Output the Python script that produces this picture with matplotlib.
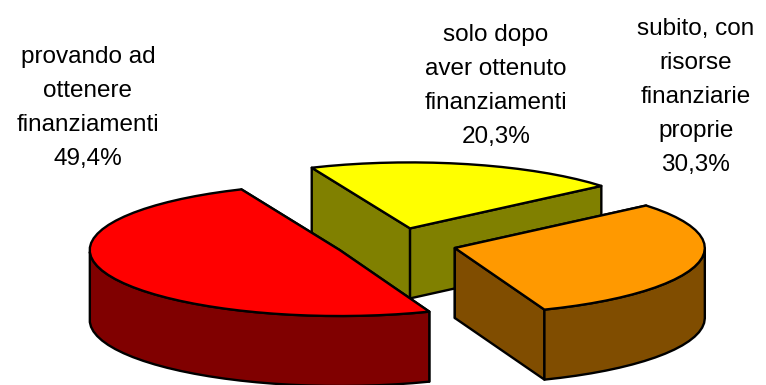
import numpy as np
import matplotlib
matplotlib.use("Agg")
import matplotlib.pyplot as plt
from matplotlib.patches import Polygon

labels = ["provando ad\nottenere\nfinanziamenti\n49,4%",
          "solo dopo\naver ottenuto\nfinanziamenti\n20,3%",
          "subito, con\nrisorse\nfinanziarie\nproprie\n30,3%"]
values = [49.4, 20.3, 30.3]
top_colors = ["#FF0000", "#FFFF00", "#FF9900"]
side_colors = ["#800000", "#808000", "#804D00"]
label_pos = [(88, 108), (496, 86), (696, 97)]

W, H = 766, 385
CX, CY = 396, 244      # pie centre (px)
A, B = 250, 66         # ellipse radii (px)
DEPTH = 70
EXPLODE = 0.243
START = 291            # parameter angle of first slice, clockwise

fig = plt.figure(figsize=(W/100, H/100), dpi=100)
ax = fig.add_axes([0, 0, 1, 1])
ax.set_xlim(0, W); ax.set_ylim(H, 0); ax.axis("off")

fr = np.array(values) / sum(values) * 360
t0 = START - np.concatenate([[0], np.cumsum(fr)[:-1]])
t1 = t0 - fr

def pt(c, t):
    r = np.radians(t)
    return np.column_stack([c[0] + A*np.cos(r), c[1] - B*np.sin(r)])

LW = 1.7
kw = dict(edgecolor="black", linewidth=LW, joinstyle="round")
order = [1, 2, 0]   # yellow behind, then orange, then red
for i in order:
    mid = (t0[i] + t1[i]) / 2
    c = np.array([CX + EXPLODE*A*np.cos(np.radians(mid)),
                  CY - EXPLODE*B*np.sin(np.radians(mid))])
    ts = np.linspace(t0[i], t1[i], int(fr[i] / 4) + 1)
    rim = pt(c, ts)
    down = np.array([0, DEPTH])
    z = 2 + order.index(i)*2
    for e in (rim[0], rim[-1]):
        ax.add_patch(Polygon([c, e, e+down, c+down], facecolor=side_colors[i], zorder=z, **kw))
    front = rim[np.sin(np.radians(ts)) <= 0]
    if len(front) > 1:
        wall = np.vstack([front, (front + down)[::-1]])
        ax.add_patch(Polygon(wall, facecolor=side_colors[i], zorder=z, **kw))
    ax.add_patch(Polygon(np.vstack([c, rim]), facecolor=top_colors[i], zorder=z+1, **kw))

for s, (x, y) in zip(labels, label_pos):
    ax.text(x, y, s, ha="center", va="center", family="Liberation Sans",
            fontsize=17.5, linespacing=1.7, color="black")

fig.savefig("out.png", dpi=100)
